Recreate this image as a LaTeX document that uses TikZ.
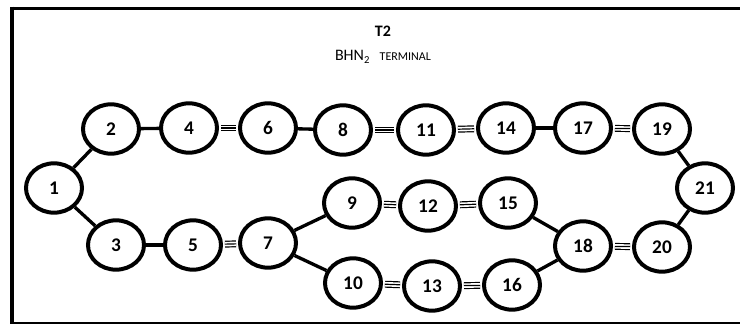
\documentclass[tikz,border=0pt]{standalone}
\usepackage{fontspec}
\setmainfont{Carlito}
\usetikzlibrary{shapes.geometric}

\begin{document}
\begin{tikzpicture}[x=0.75pt, y=-0.75pt,
    station/.style={ellipse, draw, line width=3pt, minimum width=42pt, minimum height=37pt,
        inner sep=0pt, font=\fontsize{14.5}{16}\selectfont\bfseries},
    link/.style={line width=2.5pt},
    bondout/.style={double distance=3.4pt, line width=0.9pt, shorten <=1.5pt, shorten >=1.5pt},
    bondmid/.style={line width=0.9pt, shorten <=1.5pt, shorten >=1.5pt}]
    \useasboundingbox (0,0) rectangle (740,325);

    % Frame (open on the right)
    \draw[line width=3pt] (12,6.5) -- (12,324);
    \draw[line width=2.25pt] (10,8.5) -- (740,8.5);
    \draw[line width=1.5pt] (10,323) -- (740,323);

    % Title
    \node[font=\fontsize{12}{14}\selectfont\bfseries] (title) at (383,31) {T2};
    \node[font=\fontsize{12}{14}\selectfont] (terminal) at (383,57)
        {BHN\textsubscript{2}\hspace{0.6em}{\fontsize{9}{10}\selectfont TERMINAL}};

    % Stations
    \foreach \n/\x/\y in {1/54/188, 2/111/129, 3/116/245, 4/189/128, 5/193/245,
        6/268/128, 7/268/243, 8/343/130, 9/352/203, 10/353/283, 11/426/130,
        12/428/206, 13/432/286, 14/506/128, 15/508/203, 16/512/285, 17/583/128,
        18/583/246, 19/662/129, 20/662/247, 21/705/188}
        \node[station] (st\n) at (\x,\y) {\n};

    % Single links
    \foreach \a/\b in {1/2, 1/3, 2/4, 6/8, 14/17, 19/21, 21/20, 3/5, 7/9, 7/10, 15/18, 16/18}
        \draw[link] (st\a) -- (st\b);

    % Triple links
    \foreach \a/\b in {4/6, 8/11, 11/14, 17/19, 5/7, 9/12, 12/15, 10/13, 13/16, 18/20} {
        \draw[bondout] (st\a) -- (st\b);
        \draw[bondmid] (st\a) -- (st\b);
    }
\end{tikzpicture}
\end{document}
